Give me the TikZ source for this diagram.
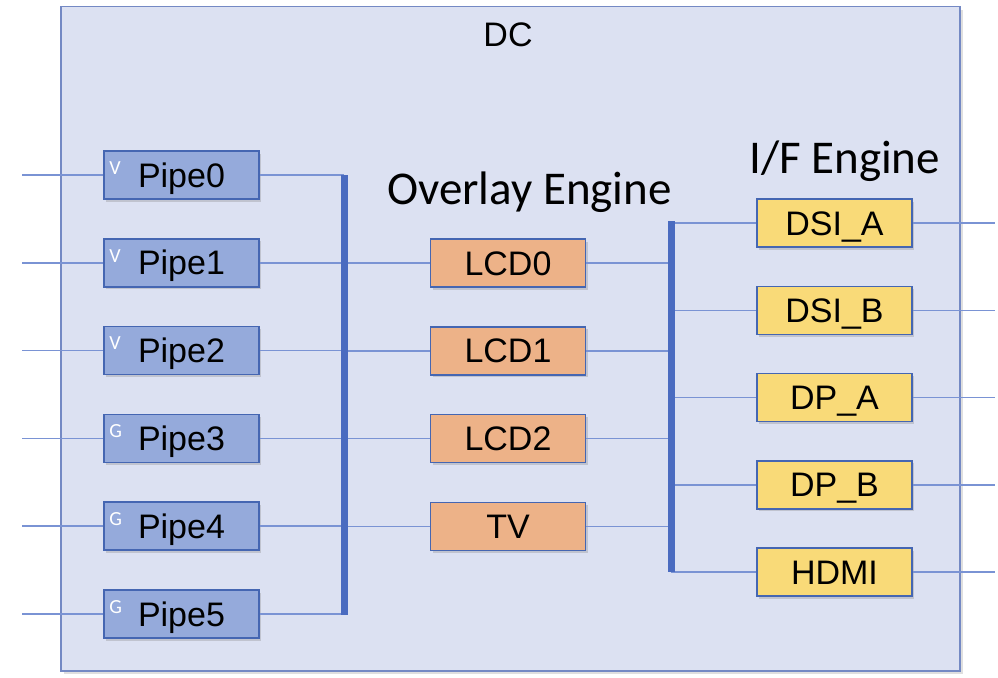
\documentclass[tikz,border=0pt]{standalone}
\usepackage{fontspec}
\setmainfont{Liberation Sans}
\newfontfamily\calibri{Carlito}
\usepackage{xcolor}
\usepackage{tikz}
\usetikzlibrary{positioning, shadows}
\definecolor{dcback}{HTML}{DCE1F2}
\definecolor{dcline}{HTML}{7489C4}
\definecolor{boxline}{HTML}{4566B2}
\definecolor{pipefill}{HTML}{95AADB}
\definecolor{lcdfill}{HTML}{EDB288}
\definecolor{iffill}{HTML}{F9DA78}
\definecolor{busblue}{HTML}{4A6BC0}
\definecolor{linkblue}{HTML}{7A93D4}

\begin{document}
\begin{tikzpicture}[x=1pt, y=-1pt, node distance=87.8pt]
\tikzstyle{unitbox} = [rectangle, minimum width=155pt, minimum height=48pt, text centered, text height=24pt, text depth=0pt, draw=boxline, line width=1.5pt, font=\fontsize{34}{40}\selectfont, drop shadow={shadow xshift=2pt, shadow yshift=-2.5pt, opacity=0.3}]
\tikzstyle{pipebox} = [unitbox, fill=pipefill]
\tikzstyle{lcdbox} = [unitbox, fill=lcdfill]
\tikzstyle{ifbox} = [unitbox, fill=iffill]
\tikzstyle{typetag} = [anchor=north west, inner sep=0pt, text=white, font=\calibri\fontsize{20}{22}\selectfont]
\tikzstyle{title} = [inner sep=0pt, font=\calibri\fontsize{47}{52}\selectfont]
\tikzstyle{link} = [draw=linkblue, line width=1.6pt]
\tikzstyle{bus} = [draw=busblue, line width=7pt]

\useasboundingbox (0,0) rectangle (998,677);
\node (dc) [draw=dcline, fill=dcback, line width=1.5pt, anchor=north west, minimum width=899pt, minimum height=664pt, drop shadow={shadow xshift=3pt, shadow yshift=-3pt, opacity=0.25}] at (60,6) {};
\node (dclabel) [anchor=base, inner sep=0pt, font=\fontsize{34}{40}\selectfont] at (508,47) {DC};
\node (overlay) [title, anchor=base west] at (387,204) {Overlay Engine};
\node (ifengine) [title, anchor=base west] at (749,173) {I/F Engine};

\node (pipe0) [pipebox] at (181.5,175) {Pipe0};
\node (pipe1) [pipebox, below of=pipe0] {Pipe1};
\node (pipe2) [pipebox, below of=pipe1] {Pipe2};
\node (pipe3) [pipebox, below of=pipe2] {Pipe3};
\node (pipe4) [pipebox, below of=pipe3] {Pipe4};
\node (pipe5) [pipebox, below of=pipe4] {Pipe5};
\foreach \i/\t in {0/V, 1/V, 2/V, 3/G, 4/G, 5/G}
  \node (tag\i) [typetag] at ([xshift=6pt, yshift=-11pt]pipe\i.north west) {\t};

\node (lcd0) [lcdbox] at (508,263) {LCD0};
\node (lcd1) [lcdbox, below of=lcd0] {LCD1};
\node (lcd2) [lcdbox, below of=lcd1] {LCD2};
\node (tv) [lcdbox, below of=lcd2] {TV};

\node (dsia) [ifbox] at (834.5,223) {DSI\_A};
\node (dsib) [ifbox, below of=dsia, node distance=87.3pt] {DSI\_B};
\node (dpa) [ifbox, below of=dsib, node distance=87.3pt] {DP\_A};
\node (dpb) [ifbox, below of=dpa, node distance=87.3pt] {DP\_B};
\node (hdmi) [ifbox, below of=dpb, node distance=87.3pt] {HDMI};

\coordinate (inwest) at (22,0);
\coordinate (outeast) at (995,0);
\coordinate (busltop) at (344,175);
\coordinate (buslbot) at (344,615);
\coordinate (busrtop) at (671,221);
\coordinate (busrbot) at (671,572);

\foreach \i in {0,...,5} {
  \draw [link] (inwest |- pipe\i) -- (pipe\i.west);
  \draw [link] (pipe\i.east) -- (pipe\i.east -| busltop);
}
\foreach \n in {lcd0, lcd1, lcd2, tv} {
  \draw [link] (\n.west -| busltop) -- (\n.west);
  \draw [link] (\n.east) -- (\n.east -| busrtop);
}
\foreach \n in {dsia, dsib, dpa, dpb, hdmi} {
  \draw [link] (busrtop |- \n.west) -- (\n.west);
  \draw [link] (\n.east) -- (\n.east -| outeast);
}
\draw [bus] (busltop) -- (buslbot);
\draw [bus] (busrtop) -- (busrbot);

\end{tikzpicture}
\end{document}
